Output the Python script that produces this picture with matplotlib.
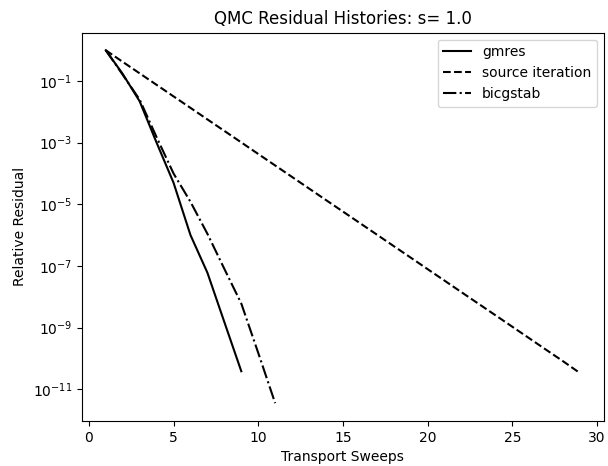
import matplotlib
matplotlib.use("Agg")
import matplotlib.pyplot as plt

gmres_x = [1, 2, 3, 4, 5, 6, 7, 8, 9]
gmres_y = [1.0, 0.17, 0.022, 1.0e-3, 5.0e-5, 1.0e-6, 6.0e-8, 1.5e-9, 3.8e-11]

si_x = list(range(1, 30))
si_y = [1.0, 0.42, 0.178, 0.0753, 0.0318, 0.0135, 5.69e-3, 2.41e-3, 1.02e-3,
        4.30e-4, 1.82e-4, 7.69e-5, 3.25e-5, 1.37e-5, 5.81e-6, 2.46e-6, 1.04e-6,
        4.39e-7, 1.86e-7, 7.85e-8, 3.32e-8, 1.40e-8, 5.93e-9, 2.51e-9, 1.06e-9,
        4.48e-10, 1.89e-10, 8.01e-11, 3.3e-11]

bicg_x = [1, 2, 3, 4, 5, 6, 7, 8, 9, 10, 11]
bicg_y = [1.0, 0.16, 0.025, 1.5e-3, 1.0e-4, 1.2e-5, 1.1e-6, 8.0e-8, 6.0e-9, 1.5e-10, 3.5e-12]

fig = plt.figure(figsize=(6.08, 4.66), dpi=100)
ax = fig.add_axes([0.135, 0.097, 0.858, 0.833])
ax.semilogy(gmres_x, gmres_y, 'k-', label='gmres')
ax.semilogy(si_x, si_y, 'k--', label='source iteration')
ax.semilogy(bicg_x, bicg_y, 'k-.', label='bicgstab')
ax.set_xlabel('Transport Sweeps')
ax.set_ylabel('Relative Residual')
ax.set_title('QMC Residual Histories: s= 1.0')
ax.legend(loc='upper right')
fig.savefig('out.png', dpi=100)
